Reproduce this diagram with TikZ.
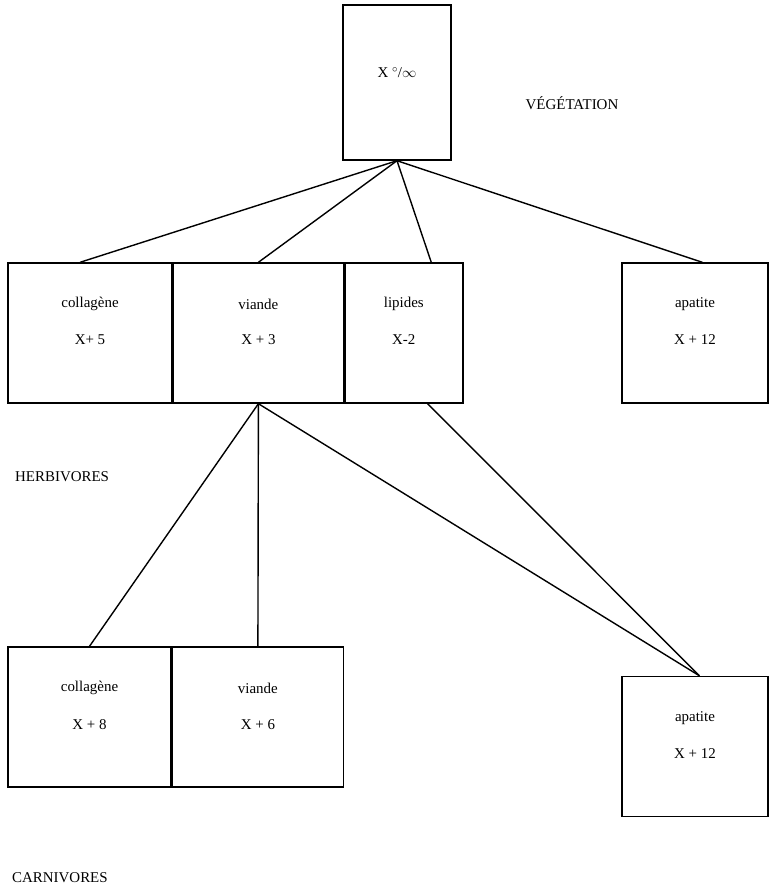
\documentclass[tikz,border=0pt]{standalone}
\usepackage{fontspec}
\setmainfont{Liberation Serif}
\usepackage{tikz}
\usetikzlibrary{calc,positioning}

\tikzset{
    box/.style={draw, line width=1.4bp, minimum width=#1, minimum height=140bp, inner sep=0pt},
    lbl/.style={font=\fontsize{15}{18}\selectfont, inner sep=0pt},
    link/.style={line width=1.4bp}
}

\begin{document}
\begin{tikzpicture}[x=1bp, y=-1bp]
    \useasboundingbox (0,0) rectangle (780,895);

    % Vegetation
    \node[draw, line width=1.4bp, minimum width=108bp, minimum height=155bp, inner sep=0pt] (veg) at (397,82.5) {};
    \node[lbl] (vegval) at ([yshift=-68bp]veg.north) {X $^{\circ}$/$\infty$};
    \node[lbl] (vegname) at (572,103) {VÉGÉTATION};

    % Herbivores
    \node[box=164bp] (hcol) at (90,333) {};
    \node[box=170bp, right=0pt of hcol] (hvia) {};
    \node[box=118bp, right=0pt of hvia] (hlip) {};
    \node[box=146bp] (hapa) at (695,333) {};
    \node[lbl] (hcolname) at ([yshift=-42bp]hcol.north) {collagène};
    \node[lbl] (hcolval)  at ([yshift=-77bp]hcol.north) {X+ 5};
    \node[lbl] (hvianame) at ([yshift=-42bp]hvia.north) {viande};
    \node[lbl] (hviaval)  at ([yshift=-77bp]hvia.north) {X + 3};
    \node[lbl] (hlipname) at ([yshift=-42bp]hlip.north) {lipides};
    \node[lbl] (hlipval)  at ([yshift=-77bp]hlip.north) {X-2};
    \node[lbl] (hapaname) at ([yshift=-42bp]hapa.north) {apatite};
    \node[lbl] (hapaval)  at ([yshift=-77bp]hapa.north) {X + 12};
    \node[lbl, anchor=west] (herb) at (15,477) {HERBIVORES};

    % Carnivores
    \node[box=163bp] (ccol) at (89.5,717) {};
    \node[box=171bp, right=0pt of ccol] (cvia) {};
    \node[box=146bp] (capa) at (695,746.5) {};
    \node[lbl] (ccolname) at ([yshift=-42bp]ccol.north) {collagène};
    \node[lbl] (ccolval)  at ([yshift=-78bp]ccol.north) {X + 8};
    \node[lbl] (cvianame) at ([yshift=-42bp]cvia.north) {viande};
    \node[lbl] (cviaval)  at ([yshift=-78bp]cvia.north) {X + 6};
    \node[lbl] (capaname) at ([yshift=-42bp]capa.north) {apatite};
    \node[lbl] (capaval)  at ([yshift=-78bp]capa.north) {X + 12};
    \node[lbl, anchor=west] (carn) at (12,878) {CARNIVORES};

    % Links from vegetation
    \draw[link] (veg.south) -- ($(hcol.north west)!0.44!(hcol.north east)$);
    \draw[link] (veg.south) -- (hvia.north);
    \draw[link] (veg.south) -- ($(hlip.north west)!0.73!(hlip.north east)$);
    \draw[link] (veg.south) -- ($(hapa.north west)!0.55!(hapa.north east)$);

    % Links to carnivores
    \draw[link] (hvia.south) -- (ccol.north);
    \draw[link] (hvia.south) -- (cvia.north);
    \draw[link] (hvia.south) -- ($(capa.north west)!0.53!(capa.north east)$);
    \draw[link] ($(hlip.south west)!0.70!(hlip.south east)$) -- ($(capa.north west)!0.53!(capa.north east)$);
\end{tikzpicture}
\end{document}
